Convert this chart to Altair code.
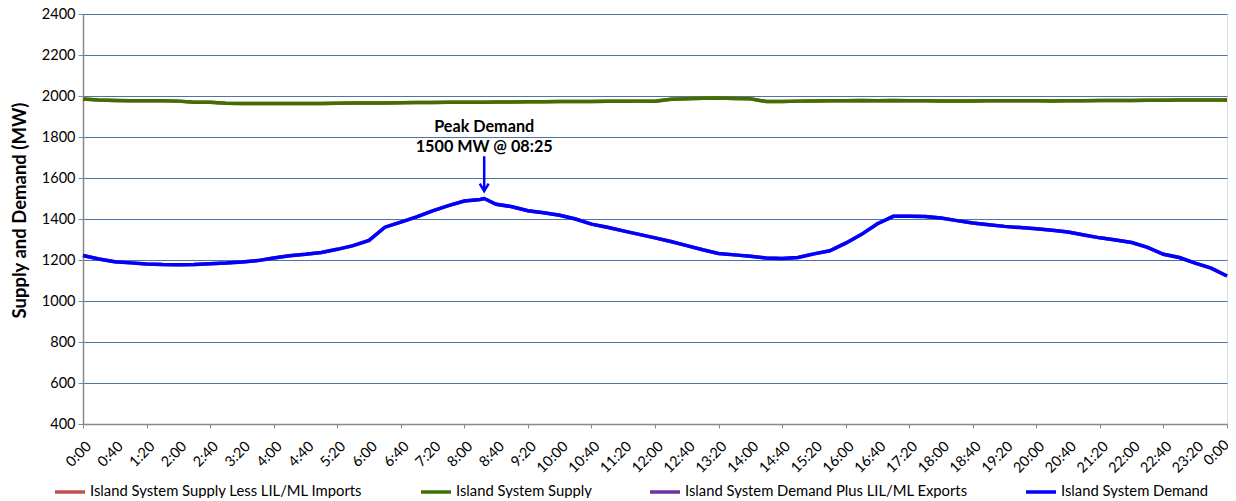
import altair as alt
import pandas as pd

# time in minutes after midnight (20-minute readings), plus the 08:25 peak
times = [0, 20, 40, 60, 80, 100, 120, 140, 160, 180, 200, 220, 240, 260, 280, 300,
         320, 340, 360, 380, 400, 420, 440, 460, 480, 500, 505, 520, 540, 560, 580,
         600, 620, 640, 660, 680, 700, 720, 740, 760, 780, 800, 820, 840, 860, 880,
         900, 920, 940, 960, 980, 1000, 1020, 1040, 1060, 1080, 1100, 1120, 1140,
         1160, 1180, 1200, 1220, 1240, 1260, 1280, 1300, 1320, 1340, 1360, 1380,
         1400, 1420, 1440]

demand = [1222, 1205, 1192, 1186, 1181, 1178, 1177, 1178, 1182, 1185, 1190, 1197,
          1210, 1221, 1228, 1237, 1252, 1270, 1296, 1360, 1385, 1410, 1440, 1465,
          1488, 1495, 1500, 1472, 1460, 1440, 1430, 1418, 1400, 1375, 1360, 1342,
          1325, 1308, 1290, 1270, 1250, 1232, 1225, 1218, 1210, 1207, 1212, 1230,
          1245, 1282, 1325, 1377, 1413, 1414, 1412, 1405, 1392, 1380, 1372, 1364,
          1358, 1352, 1345, 1337, 1322, 1308, 1298, 1285, 1262, 1228, 1212, 1185,
          1160, 1122]

supply = [1985, 1980, 1978, 1977, 1977, 1977, 1975, 1970, 1969, 1965, 1963, 1963,
          1963, 1964, 1964, 1964, 1965, 1966, 1966, 1966, 1967, 1968, 1968, 1970,
          1970, 1970, 1970, 1971, 1971, 1972, 1972, 1973, 1973, 1973, 1974, 1974,
          1975, 1975, 1984, 1986, 1989, 1990, 1988, 1986, 1973, 1973, 1975, 1976,
          1977, 1977, 1978, 1977, 1978, 1977, 1977, 1976, 1976, 1976, 1977, 1977,
          1977, 1977, 1976, 1977, 1977, 1978, 1978, 1978, 1979, 1979, 1980, 1980,
          1980, 1980]

series_names = ["Island System Supply Less LIL/ML Imports",
                "Island System Supply",
                "Island System Demand Plus LIL/ML Exports",
                "Island System Demand"]
series_colors = ["#C0504D", "#3F6F00", "#7030A0", "#0000FF"]
series_values = [supply, supply, demand, demand]

# x tick labels every 40 minutes
label_minutes = list(range(0, 1441, 40))
tick_labels = [f"{(m // 60) % 24}:{m % 60:02d}" for m in label_minutes]
minor_tick_minutes = list(range(0, 1441, 5))

peak_time = 505
peak_lines = ["Peak Demand", "1500 MW @ 08:25"]

rows = []
for order, (name, vals) in enumerate(zip(series_names, series_values)):
    for t, v in zip(times, vals):
        rows.append({"t": t, "v": v, "series": name, "o": order})
df = pd.DataFrame(rows)

FONT = "Lato"
PLOT_W, PLOT_H = 1144, 410

xscale = alt.Scale(domain=[0, 1440], nice=False, zero=False)
x = alt.X("t:Q", scale=xscale,
          axis=alt.Axis(values=minor_tick_minutes, labels=False,
                        grid=False, tickSize=4, tickColor="#898989",
                        domainColor="#898989", domainWidth=1.5, title=None))
y = alt.Y("v:Q",
          scale=alt.Scale(domain=[400, 2400], nice=False, zero=False),
          axis=alt.Axis(values=list(range(400, 2401, 200)), format="d", grid=True,
                        gridColor="#4F73A5", gridWidth=1,
                        tickSize=5, tickColor="#898989", domainColor="#898989",
                        domainWidth=1.5, labelFont=FONT, labelFontSize=14.5,
                        labelColor="#000000", labelPadding=3,
                        title="Supply and Demand (MW)", titleFont=FONT,
                        titleFontSize=18.5, titleFontWeight="bold",
                        titleColor="#000000", titleAngle=270,
                        titleAlign="center", titleBaseline="alphabetic",
                        titleX=-58, titleY=196))

lines = alt.Chart(df).mark_line(strokeWidth=3.5).encode(
    x=x, y=y,
    color=alt.Color("series:N",
                    scale=alt.Scale(domain=series_names, range=series_colors),
                    legend=alt.Legend(orient="none", legendX=-30, legendY=461,
                                      direction="horizontal", columns=4,
                                      columnPadding=51, title=None,
                                      symbolType="stroke", symbolSize=900,
                                      symbolStrokeWidth=3.5, labelFont=FONT,
                                      labelFontSize=14.8, labelColor="#000000",
                                      labelLimit=500, labelOffset=3)),
    detail="series:N",
    order="o:Q",
)

lab_df = pd.DataFrame({"t": label_minutes, "label": tick_labels})
lab_base = alt.Chart(lab_df).encode(
    x=alt.X("t:Q", scale=xscale), y=alt.value(PLOT_H), text="label:N")
xlabels = lab_base.mark_text(
    font=FONT, fontSize=14.5, color="#000000", angle=315,
    align="right", baseline="middle", dx=-10, dy=19
).transform_filter("datum.t < 1440")
xlabel_last = lab_base.mark_text(
    font=FONT, fontSize=14.5, color="#000000", angle=315,
    align="right", baseline="middle", dx=-13.5, dy=13.5
).transform_filter("datum.t >= 1440")

ann = pd.DataFrame({"t": [peak_time, peak_time],
                    "v": [1851, 1750],
                    "label": peak_lines})
text = alt.Chart(ann).mark_text(font=FONT, fontSize=16.2, fontWeight="bold",
                                color="#000000", baseline="middle").encode(
    x="t:Q", y="v:Q", text="label:N")

arrow_df = pd.DataFrame({"t": [peak_time], "top": [1706], "tip": [1536]})
stem = alt.Chart(arrow_df).mark_rule(color="#0000FF", strokeWidth=2.5).encode(
    x="t:Q", y="top:Q", y2="tip:Q")
head = alt.Chart(arrow_df).mark_point(
    shape="M-0.6,-1L0,0L0.6,-1", filled=False, color="#0000FF",
    strokeWidth=2.5, size=220, opacity=1).encode(x="t:Q", y="tip:Q")

chart = alt.layer(lines, stem, head, text, xlabels, xlabel_last).properties(
    width=PLOT_W, height=PLOT_H,
    autosize=alt.AutoSizeParams(type="none"),
    padding={"left": 75, "top": 6, "right": 1, "bottom": 74},
).configure_view(stroke="#898989", strokeWidth=1.5).configure(background="white")

chart.save("out.html", embed_options={"renderer": "svg", "actions": False})
